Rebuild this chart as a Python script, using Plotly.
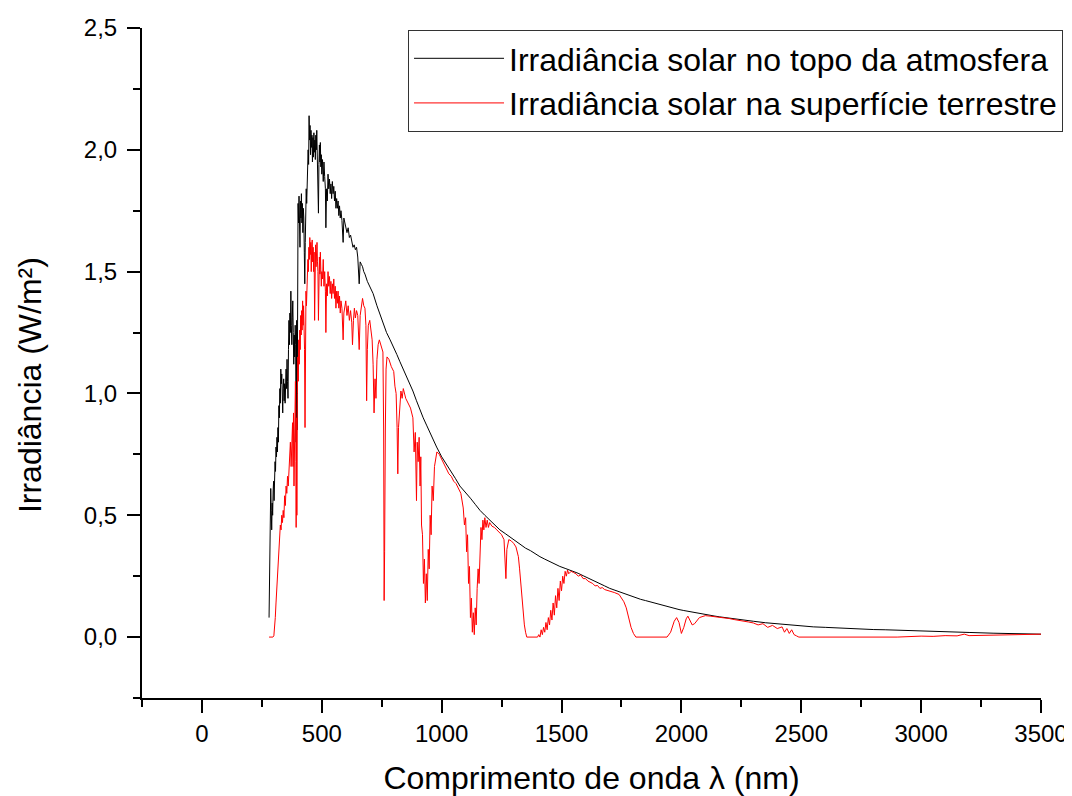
import plotly.graph_objects as go

# ---- Irradiância solar no topo da atmosfera (preto) ----
wl_topo = [280, 283, 285, 287, 289, 291, 293, 295, 297, 299, 301, 303, 305, 307, 309, 311, 313, 315, 317, 319,
           321, 323, 325, 327, 329, 331, 333, 335, 337, 339, 341, 343, 345, 347, 349, 351, 353, 355, 357, 359,
           361, 363, 365, 367, 369, 371, 373, 375, 377, 379, 381, 383, 385, 387, 389, 391, 393, 395, 397, 399,
           401, 403, 405, 407, 409, 411, 413, 415, 417, 419, 421, 423, 425, 427, 429, 431, 433, 435, 437, 439,
           441, 443, 445, 447, 449, 451, 453, 455, 457, 459, 461, 463, 465, 467, 469, 471, 473, 475, 477, 479,
           481, 483, 485, 486, 488, 490, 492, 494, 496, 498, 500, 503, 506, 509, 512, 515, 517, 520, 523, 526,
           529, 532, 535, 538, 541, 544, 547, 550, 553, 556, 559, 562, 565, 568, 571, 574, 577, 580, 584, 589,
           592, 596, 600, 605, 610, 615, 620, 625, 630, 635, 640, 645, 650, 656, 660, 665, 670, 675, 680, 690,
           700, 714, 730, 745, 757, 770, 785, 800, 813, 826, 840, 854, 868, 880, 895, 910, 923, 937, 950, 965,
           979, 1000, 1020, 1040, 1058, 1076, 1100, 1120, 1140, 1160, 1180, 1200, 1220, 1243, 1265, 1285, 1305,
           1326, 1350, 1370, 1390, 1410, 1430, 1450, 1470, 1493, 1515, 1535, 1550, 1569, 1590, 1618, 1640, 1660,
           1680, 1701, 1720, 1740, 1760, 1785, 1810, 1830, 1850, 1868, 1890, 1910, 1930, 1951, 1970, 1990, 2010,
           2035, 2055, 2075, 2095, 2118, 2140, 2160, 2180, 2201, 2250, 2300, 2350, 2400, 2450, 2500, 2550, 2600,
           2650, 2700, 2750, 2800, 2850, 2900, 2950, 3000, 3100, 3200, 3300, 3400, 3500]
irr_topo = [0.08, 0.30, 0.45, 0.61, 0.52, 0.44, 0.55, 0.50, 0.60, 0.64, 0.56, 0.66, 0.72, 0.68, 0.78, 0.74, 0.82, 0.76, 0.86, 0.80,
            0.95, 0.90, 1.02, 0.96, 1.10, 1.04, 1.08, 0.98, 0.92, 1.02, 1.06, 0.97, 1.04, 0.96, 1.03, 1.10, 1.02, 1.14, 1.05, 0.98,
            1.18, 1.30, 1.20, 1.33, 1.25, 1.42, 1.28, 1.20, 1.31, 1.38, 1.25, 1.12, 1.24, 1.15, 1.28, 1.20, 0.80, 1.30, 0.85, 1.40,
            1.78, 1.70, 1.81, 1.74, 1.60, 1.79, 1.72, 1.82, 1.70, 1.78, 1.66, 1.76, 1.72, 1.58, 1.45, 1.62, 1.76, 1.84, 1.78, 1.90,
            1.85, 2.00, 1.94, 2.14, 2.04, 2.10, 1.98, 2.08, 2.01, 2.06, 1.95, 2.05, 1.97, 2.07, 1.99, 2.04, 1.96, 2.06, 2.00, 2.08,
            1.98, 2.02, 1.90, 1.74, 1.94, 2.02, 1.95, 2.03, 1.93, 1.98, 1.90, 1.96, 1.87, 1.95, 1.89, 1.84, 1.68, 1.84, 1.79, 1.90,
            1.84, 1.88, 1.82, 1.86, 1.80, 1.87, 1.82, 1.85, 1.79, 1.83, 1.76, 1.80, 1.76, 1.79, 1.73, 1.77, 1.72, 1.75, 1.71, 1.62,
            1.72, 1.70, 1.69, 1.66, 1.68, 1.64, 1.65, 1.62, 1.60, 1.61, 1.59, 1.60, 1.56, 1.45, 1.54, 1.53, 1.52, 1.50, 1.49, 1.46,
            1.44, 1.41, 1.36, 1.32, 1.29, 1.25, 1.22, 1.19, 1.16, 1.13, 1.10, 1.07, 1.04, 1.01, 0.97, 0.93, 0.90, 0.87, 0.84, 0.81,
            0.78, 0.74, 0.71, 0.68, 0.65, 0.62, 0.595, 0.57, 0.545, 0.52, 0.50, 0.48, 0.46, 0.44, 0.425, 0.41, 0.395,
            0.38, 0.365, 0.355, 0.342, 0.33, 0.32, 0.31, 0.30, 0.29, 0.282, 0.275, 0.27, 0.262, 0.252, 0.24, 0.23, 0.22,
            0.21, 0.20, 0.193, 0.185, 0.178, 0.17, 0.162, 0.155, 0.15, 0.145, 0.139, 0.133, 0.128, 0.123, 0.118, 0.113, 0.109,
            0.104, 0.10, 0.097, 0.093, 0.09, 0.086, 0.083, 0.08, 0.077, 0.071, 0.065, 0.059, 0.054, 0.049, 0.045, 0.042, 0.040,
            0.037, 0.035, 0.033, 0.031, 0.030, 0.028, 0.026, 0.025, 0.022, 0.019, 0.016, 0.014, 0.012]

# ---- Irradiância solar na superfície terrestre (vermelho) ----
wl_sup = [280, 290, 296, 300, 303, 306, 309, 312, 315, 318, 321, 324, 327, 330, 333, 336, 339, 342, 345, 348,
          351, 354, 357, 360, 363, 366, 369, 372, 375, 378, 380, 382, 384, 386, 388, 390, 392, 393, 395, 396,
          398, 400, 402, 404, 406, 408, 410, 412, 414, 416, 418, 420, 422, 424, 426, 428, 430, 432, 434, 436,
          438, 440, 442, 444, 446, 448, 450, 452, 454, 456, 458, 460, 462, 464, 466, 468, 470, 472, 474, 476,
          478, 480, 482, 484, 486, 488, 490, 492, 494, 496, 498, 500, 503, 506, 509, 512, 515, 517, 520, 523,
          526, 529, 532, 535, 538, 541, 544, 547, 550, 553, 556, 559, 562, 565, 568, 571, 574, 577, 580, 584,
          589, 592, 596, 600, 605, 610, 615, 620, 625, 628, 632, 636, 640, 645, 650, 656, 660, 665, 670, 675,
          680, 684, 687, 690, 694, 700, 705, 710, 714, 718, 722, 726, 730, 735, 740, 745, 750, 755, 758, 760,
          762, 765, 768, 772, 780, 790, 800, 805, 810, 814, 817, 820, 825, 830, 835, 840, 850, 860, 870, 880,
          885, 890, 895, 898, 902, 906, 910, 913, 916, 920, 924, 928, 932, 936, 940, 944, 948, 952, 956, 960,
          965, 970, 975, 980, 990, 1000, 1010, 1020, 1030, 1040, 1050, 1060, 1070, 1080, 1090, 1095, 1100, 1104, 1108, 1112,
          1116, 1120, 1124, 1128, 1132, 1136, 1140, 1144, 1148, 1152, 1156, 1160, 1164, 1168, 1172, 1176, 1180, 1185, 1190, 1195,
          1200, 1210, 1220, 1230, 1240, 1250, 1260, 1265, 1268, 1272, 1280, 1290, 1300, 1310, 1320, 1325, 1330, 1335, 1340, 1345,
          1350, 1355, 1400, 1405, 1410, 1415, 1420, 1425, 1430, 1435, 1440, 1445, 1450, 1455, 1460, 1465, 1470, 1475, 1480, 1485,
          1490, 1495, 1500, 1505, 1510, 1515, 1520, 1525, 1530, 1540, 1550, 1560, 1570, 1580, 1590, 1600, 1610, 1620, 1630, 1640,
          1650, 1660, 1670, 1680, 1700, 1720, 1740, 1750, 1760, 1770, 1780, 1790, 1800, 1810, 1940, 1955, 1970, 1980, 1990, 2000,
          2010, 2020, 2027, 2035, 2045, 2055, 2065, 2075, 2090, 2100, 2120, 2150, 2180, 2200, 2220, 2250, 2280, 2300, 2320, 2340,
          2360, 2380, 2400, 2420, 2430, 2440, 2450, 2460, 2470, 2480, 2490, 2900, 2950, 3000, 3050, 3100, 3150, 3180, 3200, 3250,
          3300, 3350, 3400, 3450, 3500]
irr_sup = [0.0, 0.0, 0.0, 0.005, 0.03, 0.08, 0.14, 0.20, 0.24, 0.30, 0.36, 0.42, 0.46, 0.44, 0.50, 0.47, 0.52, 0.49, 0.58, 0.54,
           0.62, 0.59, 0.66, 0.62, 0.70, 0.74, 0.80, 0.70, 0.76, 0.88, 0.70, 0.92, 0.62, 0.80, 0.96, 1.05, 0.72, 0.45, 0.90, 0.50,
           1.00, 1.15, 1.05, 1.22, 1.12, 1.26, 1.18, 1.32, 1.24, 1.34, 1.26, 1.38, 1.28, 1.36, 1.30, 1.18, 0.86, 1.30, 1.42, 1.36,
           1.48, 1.44, 1.55, 1.50, 1.60, 1.55, 1.64, 1.57, 1.62, 1.50, 1.61, 1.63, 1.54, 1.60, 1.50, 1.58, 1.30, 1.56, 1.61, 1.52,
           1.58, 1.62, 1.54, 1.50, 1.30, 1.47, 1.56, 1.49, 1.58, 1.51, 1.44, 1.50, 1.47, 1.55, 1.44, 1.50, 1.42, 1.25, 1.45, 1.40,
           1.50, 1.44, 1.48, 1.41, 1.46, 1.39, 1.45, 1.41, 1.47, 1.39, 1.44, 1.35, 1.42, 1.37, 1.42, 1.35, 1.40, 1.33, 1.38, 1.35,
           1.22, 1.33, 1.36, 1.38, 1.32, 1.36, 1.30, 1.34, 1.29, 1.20, 1.30, 1.35, 1.31, 1.34, 1.32, 1.18, 1.32, 1.36, 1.39, 1.36,
           1.35, 1.28, 0.97, 1.18, 1.28, 1.30, 1.26, 1.22, 1.12, 0.92, 1.06, 0.98, 1.14, 1.20, 1.22, 1.20, 1.19, 1.17, 0.85, 0.15,
           0.35, 0.85, 1.10, 1.15, 1.14, 1.11, 1.09, 1.03, 1.00, 0.86, 0.67, 0.86, 0.96, 1.01, 0.98, 1.02, 0.98, 0.96, 0.94, 0.90,
           0.76, 0.84, 0.56, 0.80, 0.72, 0.82, 0.62, 0.74, 0.46, 0.42, 0.22, 0.32, 0.14, 0.26, 0.15, 0.36, 0.28, 0.50, 0.42, 0.62,
           0.56, 0.70, 0.74, 0.76, 0.75, 0.73, 0.71, 0.69, 0.67, 0.66, 0.64, 0.63, 0.61, 0.59, 0.53, 0.46, 0.49, 0.35, 0.42, 0.22,
           0.29, 0.08, 0.16, 0.02, 0.10, 0.01, 0.12, 0.05, 0.20, 0.28, 0.22, 0.38, 0.45, 0.40, 0.48, 0.44, 0.49, 0.45, 0.48, 0.45,
           0.47, 0.455, 0.45, 0.44, 0.43, 0.42, 0.40, 0.30, 0.24, 0.36, 0.40, 0.395, 0.385, 0.37, 0.33, 0.28, 0.22, 0.15, 0.10, 0.05,
           0.02, 0.0, 0.0, 0.01, 0.0, 0.03, 0.01, 0.04, 0.02, 0.06, 0.03, 0.08, 0.05, 0.11, 0.07, 0.14, 0.09, 0.17, 0.12, 0.20,
           0.15, 0.23, 0.19, 0.25, 0.22, 0.27, 0.25, 0.275, 0.26, 0.27, 0.265, 0.26, 0.25, 0.255, 0.24, 0.24, 0.23, 0.225, 0.22, 0.21,
           0.212, 0.20, 0.203, 0.195, 0.19, 0.183, 0.175, 0.16, 0.145, 0.12, 0.08, 0.04, 0.015, 0.0, 0.0, 0.02, 0.065, 0.08, 0.06, 0.015,
           0.04, 0.075, 0.086, 0.07, 0.05, 0.055, 0.07, 0.08, 0.085, 0.088, 0.086, 0.083, 0.079, 0.076, 0.072, 0.068, 0.062, 0.058, 0.05, 0.055,
           0.04, 0.048, 0.035, 0.042, 0.02, 0.035, 0.015, 0.03, 0.01, 0.005, 0.0, 0.0, 0.003, 0.004, 0.003, 0.006, 0.005, 0.012, 0.006, 0.007,
           0.008, 0.009, 0.010, 0.011, 0.012]

# ---- axis ticks ----
x_tick_vals = [0, 500, 1000, 1500, 2000, 2500, 3000, 3500]
x_tick_labels = ["0", "500", "1000", "1500", "2000", "2500", "3000", "3500"]
y_tick_vals = [0.0, 0.5, 1.0, 1.5, 2.0, 2.5]
y_tick_labels = ["0,0", "0,5", "1,0", "1,5", "2,0", "2,5"]

series_names = ["Irradiância solar no topo da atmosfera",
                "Irradiância solar na superfície terrestre"]

FONT = "Liberation Sans, Arial, sans-serif"

fig = go.Figure()
fig.add_trace(go.Scatter(x=wl_topo, y=irr_topo, mode="lines", name=series_names[0],
                         line=dict(color="#000000", width=1)))
fig.add_trace(go.Scatter(x=wl_sup, y=irr_sup, mode="lines", name=series_names[1],
                         line=dict(color="#ff0000", width=1)))

axis_common = dict(showline=True, linewidth=2, linecolor="black", ticks="outside",
                   ticklen=13, tickwidth=2, tickcolor="black", showgrid=False, zeroline=False,
                   mirror=False, automargin=False)

# page body has an 8px margin, so margins are reduced by 8 on the left/top
fig.update_layout(
    width=1072, height=796,
    margin=dict(l=134, r=39, t=20, b=106),
    paper_bgcolor="white", plot_bgcolor="white",
    font=dict(family=FONT, color="black"),
    legend=dict(x=1.0245, y=0.997, xanchor="right", yanchor="top",
                bordercolor="#333333", borderwidth=1, bgcolor="white", itemwidth=90,
                font=dict(size=32, family=FONT, color="black"), tracegroupgap=0),
    xaxis=dict(range=[-250, 3500], tickmode="array", tickvals=x_tick_vals, ticktext=x_tick_labels,
               tickfont=dict(size=24, family=FONT),
               title=dict(text="Comprimento de onda λ (nm)", font=dict(size=32, family=FONT), standoff=21),
               minor=dict(dtick=250, tick0=0, ticks="outside", ticklen=7, tickwidth=2, tickcolor="black"),
               **axis_common),
    yaxis=dict(range=[-0.25, 2.5], tickmode="array", tickvals=y_tick_vals, ticktext=y_tick_labels,
               tickfont=dict(size=24, family=FONT), ticklabelstandoff=5,
               minor=dict(dtick=0.25, tick0=0, ticks="outside", ticklen=7, tickwidth=2, tickcolor="black"),
               **axis_common),
    annotations=[dict(text="Irradiância (W/m²)", textangle=-90, xref="paper", yref="paper",
                      x=-0.1246, y=0.467, xanchor="center", yanchor="middle", showarrow=False,
                      font=dict(size=32, family=FONT, color="black"))],
)

fig.write_html("out.html")
